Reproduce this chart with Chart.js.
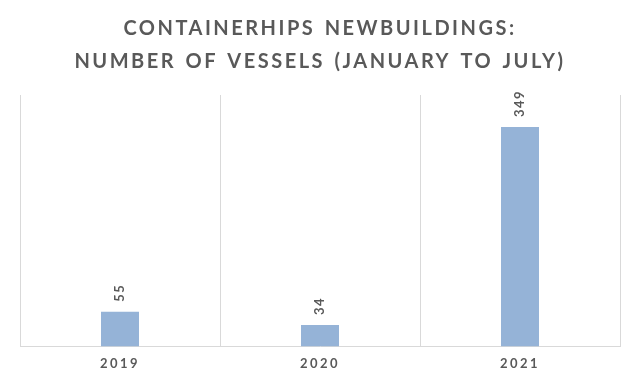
<!DOCTYPE html>
<html>
<head>
<meta charset="utf-8">
<script src="https://cdn.jsdelivr.net/npm/chart.js@4/dist/chart.umd.min.js"></script>
<style>
  html, body { margin: 0; padding: 0; background: #fff; }
  #wrap { width: 640px; height: 384px; }
</style>
</head>
<body>
<div id="wrap"><canvas id="bar-chart"></canvas></div>
<script>
const years = ["2019", "2020", "2021"];
const vessels = [55, 34, 349];
const titleLines = ["CONTAINERHIPS NEWBUILDINGS:", "NUMBER OF VESSELS (JANUARY TO JULY)"];

const grey = "#595959";

// letter spacing + rotated value labels above the bars
const spacingPlugin = {
  id: "spacing",
  beforeDraw(chart) {
    chart.ctx.letterSpacing = "2.5px";
    chart.ctx.wordSpacing = "2px";
  },
  afterDatasetsDraw(chart) {
    const ctx = chart.ctx;
    const meta = chart.getDatasetMeta(0);
    ctx.save();
    ctx.letterSpacing = "1.5px";
    ctx.wordSpacing = "0px";
    ctx.fillStyle = grey;
    ctx.font = "bold 13px Lato";
    ctx.textAlign = "left";
    ctx.textBaseline = "middle";
    meta.data.forEach((bar, i) => {
      ctx.save();
      ctx.translate(bar.x, bar.y - 10);
      ctx.rotate(-Math.PI / 2);
      ctx.fillText(vessels[i], 0, 0);
      ctx.restore();
    });
    ctx.restore();
    ctx.letterSpacing = "3px";
  },
  afterDraw(chart) {
    chart.ctx.letterSpacing = "0px";
    chart.ctx.wordSpacing = "0px";
  },
};

new Chart(document.getElementById("bar-chart"), {
  type: "bar",
  data: {
    labels: years,
    datasets: [
      {
        label: "Vessels",
        data: vessels,
        backgroundColor: "#95b3d7",
        barPercentage: 0.19,
        categoryPercentage: 1,
      },
    ],
  },
  options: {
    responsive: true,
    maintainAspectRatio: false,
    animation: false,
    layout: { padding: { left: 20, right: 20, top: 0, bottom: 2 } },
    plugins: {
      legend: { display: false },
      tooltip: { enabled: false },
      title: {
        display: true,
        text: titleLines,
        color: grey,
        font: { family: "Lato", size: 20, weight: "bold", lineHeight: 1.65 },
        padding: { top: 12, bottom: 17 },
      },
    },
    scales: {
      x: {
        z: 1,
        grid: {
          offset: true,
          color: "#d9d9d9",
          drawTicks: false,
        },
        border: { color: "#d9d9d9" },
        ticks: {
          color: grey,
          padding: 10,
          font: { family: "Lato", size: 13, weight: "bold" },
        },
      },
      y: {
        display: false,
        min: 0,
        max: 400,
      },
    },
  },
  plugins: [spacingPlugin],
});
</script>
</body>
</html>
